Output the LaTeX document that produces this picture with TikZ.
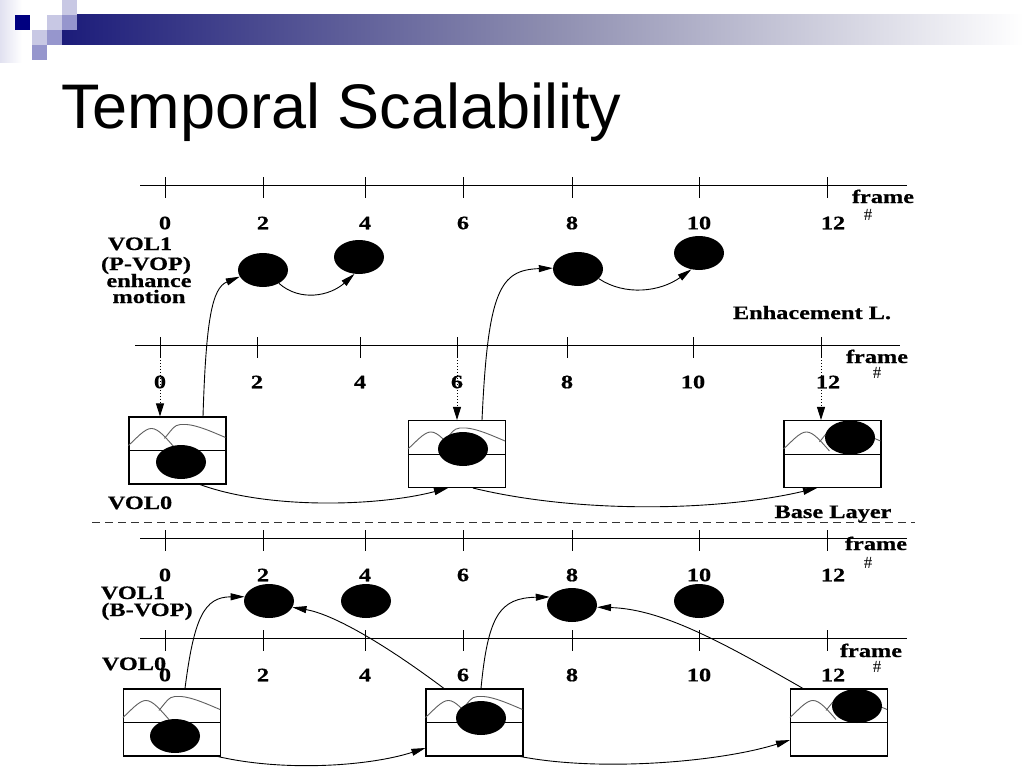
\documentclass[tikz,border=0pt]{standalone}
\usepackage{fontspec}
\setmainfont{Liberation Sans}
\newfontfamily\df[FakeStretch=1.28,BoldFeatures={FakeBold=0.6}]{Liberation Serif}
\newfontfamily\hf{Liberation Serif}
\newfontfamily\tf{Liberation Sans}
\usetikzlibrary{shapes.geometric,arrows.meta,calc}

\definecolor{navy}{RGB}{0,0,128}
\definecolor{lav}{RGB}{200,200,228}
\definecolor{lavm}{RGB}{150,150,205}
\definecolor{barl}{RGB}{28,28,122}
\definecolor{barm}{RGB}{140,140,175}
\definecolor{mgray}{RGB}{95,95,95}

\tikzset{
 lbl/.style={font=\df\bfseries\fontsize{19}{21}\selectfont, inner sep=0pt},
 hashlbl/.style={font=\hf\fontsize{17}{18}\selectfont, inner sep=0pt},
 axisline/.style={line width=1pt},
 blob/.style={ellipse, fill=black, minimum width=50pt, minimum height=34pt, inner sep=0pt},
 frm/.style={draw, line width=1.1pt, fill=white, minimum width=97pt, minimum height=67pt, inner sep=0pt},
 mtn/.style={draw=mgray, line width=0.9pt},
 arr/.style={line width=0.9pt, -{Triangle[length=14pt,width=7pt]}},
 darr/.style={line width=1pt, dotted, -{Triangle[length=13pt,width=8pt]}},
}

\newcommand{\mountains}[1]{%
 \begin{scope}[shift={(#1.north west)}]
  \draw[mtn] (0,29) .. controls (8,22) and (16,12) .. (23,12) .. controls (30,12) and (38,22) .. (46,31);
  \draw[mtn] (36,22) .. controls (42,15) and (46,8) .. (52,8) -- (58,8) .. controls (70,9) and (85,16) .. (97,21);
 \end{scope}
 \draw[line width=1pt] (#1.west) -- (#1.east);
}

\begin{document}
\begin{tikzpicture}[x=1pt,y=-1pt]
\useasboundingbox (0,0) rectangle (1024,768);
\fill[white] (0,0) rectangle (1024,768);

% header decoration
\shade[left color={rgb,255:red,225;green,225;blue,240}, right color=white] (0,0) rectangle (22,62);
\shade[left color=barl, right color=white, middle color=barm] (62,15) rectangle (1024,45);
\fill[navy] (15,15) rectangle (30,30);
\fill[lav] (62,0) rectangle (77,15);
\fill[lav] (47,15) rectangle (62,30);
\fill[lavm] (62,15) rectangle (77,30);
\fill[lav] (32,30) rectangle (47,45);
\fill[lavm] (47,30) rectangle (62,45);
\fill[lavm] (32,45) rectangle (47,60);

% title
\node[anchor=base west, inner sep=0pt, font=\tf\fontsize{63}{72}\selectfont] (title) at (61,128) {Temporal Scalability};

% axes with ticks and labels
\foreach \ay/\ly/\ax/\bx/\nm in {185/223/140/907/a, 538/575/140/907/c, 638/675/140/907/d} {
  \draw[axisline] (\ax,\ay) -- (\bx,\ay);
  \foreach \x/\n/\lx in {165/0/165,263/2/263,365/4/365,463/6/463,572/8/572,699/10/699,827/12/833} {
    \draw[axisline] (\x,\ay-8) -- (\x,\ay+13);
    \node[lbl] (\nm\n) at (\lx,\ly) {\n};
  }
}
\draw[axisline] (135,345) -- (900,345);
\foreach \x/\n/\lx in {160/0/160,257/2/257,360/4/360,457/6/457,567/8/567,693/10/693,821/12/828} {
  \draw[axisline] (\x,337) -- (\x,358);
  \node[lbl] (b\n) at (\lx,382) {\n};
}

% frame # labels
\node[lbl, anchor=base] (fra) at (883,203) {frame};
\node[hashlbl] (ha) at (868,215) {\#};
\node[lbl, anchor=base] (frb) at (877,363) {frame};
\node[hashlbl] (hb) at (877,373) {\#};
\node[lbl, anchor=base] (frc) at (876,550) {frame};
\node[hashlbl] (hc) at (868,563) {\#};
\node[lbl, anchor=base] (frd) at (871,657) {frame};
\node[hashlbl] (hd) at (877,667) {\#};

% side texts
\node[lbl, anchor=base] (v1a) at (140,250) {VOL1};
\node[lbl, anchor=base] (v1b) at (146,270) {(P-VOP)};
\node[lbl, anchor=base] (v1c) at (149,287) {enhance};
\node[lbl, anchor=base] (v1d) at (149,303) {motion};
\node[lbl, anchor=base] (enh) at (812,319) {Enhacement L.};
\node[lbl, anchor=base] (v0a) at (140,509) {VOL0};
\node[lbl, anchor=base] (base) at (833,518) {Base Layer};
\node[lbl, anchor=base] (v1e) at (133,599) {VOL1};
\node[lbl, anchor=base] (v1f) at (147,616) {(B-VOP)};
\node[lbl, anchor=base] (v0b) at (134,670) {VOL0};

% separator
\draw[line width=1pt, dash pattern=on 8pt off 5pt, draw=black!80] (92,522) -- (915,522);

% top enhancement ellipses
\node[blob] (E2) at (263,270) {};
\node[blob] (E4) at (359,257) {};
\node[blob] (E8) at (578,269) {};
\node[blob] (E10) at (699,253) {};

% base layer boxes (top section)
\node[frm] (B0) at (177.5,450.5) {};
\mountains{B0}
\node[blob] (B0e) at (181,462) {};
\node[frm] (B6) at (457,454) {};
\mountains{B6}
\node[blob] (B6e) at (463,449) {};
\node[frm] (B12) at (832.5,454) {};
\mountains{B12}
\node[blob] (B12e) at (850,437.5) {};

% bottom section ellipses
\node[blob] (F2) at (269,601) {};
\node[blob] (F4) at (366,601) {};
\node[blob] (F8) at (572,605) {};
\node[blob] (F10) at (699,601) {};

% bottom section boxes
\node[frm] (C0) at (172,722.5) {};
\mountains{C0}
\node[blob] (C0e) at (175,736) {};
\node[frm] (C6) at (474.5,722.5) {};
\mountains{C6}
\node[blob] (C6e) at (481,718) {};
\node[frm] (C12) at (839,722.5) {};
\mountains{C12}
\node[blob] (C12e) at (857,706) {};

% dotted arrows from axis to base frames
\coordinate (t0) at (160,345);
\coordinate (t6) at (457,345);
\coordinate (t12) at (821,345);
\draw[darr] (t0) -- (t0 |- B0.north);
\draw[darr] (t6) -- (t6 |- B6.north);
\draw[darr] (t12) -- (t12 |- B12.north);

% top section arrows
\draw[arr] ([xshift=25.5pt]B0.north) .. controls (206,320) and (212,288) .. (E2.196);
\draw[arr] (E2.320) .. controls (300,302) and (330,296) .. (E4.255);
\draw[arr] ([xshift=25pt]B6.north) .. controls (488,290) and (500,270) .. (E8.178);
\draw[arr] (E8.335) .. controls (625,296) and (660,292) .. (E10.245);
\draw[arr] ([xshift=22.5pt]B0.south) .. controls (270,510) and (380,506) .. ([xshift=-9pt]B6.south);
\draw[arr] ([xshift=16pt]B6.south) .. controls (580,514) and (720,511) .. ([xshift=-15.5pt]B12.south);

% bottom section arrows
\draw[arr] ([xshift=13pt]C0.north) .. controls (194,618) and (204,597) .. (F2.170);
\draw[arr] ([xshift=-30.5pt]C6.north) .. controls (382,642) and (332,614) .. (F2.345);
\draw[arr] ([xshift=6.5pt]C6.north) .. controls (488,615) and (500,598) .. (F8.160);
\draw[arr] ([xshift=-36pt]C12.north) .. controls (722,642) and (662,609) .. (F8.355);
\draw[arr] ([xshift=46pt]C0.south) .. controls (285,772) and (370,766) .. ([yshift=-25.5pt]C6.west);
\draw[arr] ([xshift=-3pt]C6.south east) .. controls (600,772) and (720,762) .. ([yshift=-17.5pt]C12.west);

\end{tikzpicture}
\end{document}
